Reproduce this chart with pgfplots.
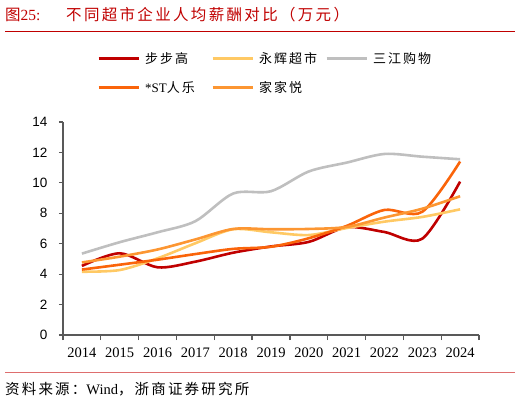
\documentclass[border=0pt]{standalone}
\usepackage{fontspec}
\setmainfont{Liberation Serif}
\newfontfamily\cjk[LetterSpace=15]{Noto Sans CJK SC}
\newfontfamily\arialf{Liberation Sans}
\usepackage{pgfplots}
\pgfplotsset{compat=1.18}

\definecolor{titlered}{RGB}{192,0,0}
\definecolor{footred}{RGB}{222,110,110}
\definecolor{axisgray}{RGB}{89,89,89}
\definecolor{bbgred}{RGB}{192,0,0}
\definecolor{yhyellow}{RGB}{255,201,100}
\definecolor{sjgray}{RGB}{191,191,191}
\definecolor{rlorange}{RGB}{250,100,10}
\definecolor{jjyorange}{RGB}{252,150,50}

\begin{document}
\begin{tikzpicture}
\useasboundingbox (0,0) rectangle (520pt,402pt);

% title and source
\node[anchor=base west, inner sep=0pt, text=titlered, font=\fontsize{15.5}{16}\selectfont] at (5pt,381pt) {{\cjk 图}25:};
\node[anchor=base west, inner sep=0pt, text=titlered, font=\fontsize{15.5}{16}\selectfont] at (66pt,381pt) {\cjk 不同超市企业人均薪酬对比（万元）};
\draw[titlered, line width=0.8pt] (5pt,371pt) -- (515pt,371pt);
\draw[footred, line width=0.8pt] (5pt,30pt) -- (515pt,30pt);
\node[anchor=base west, inner sep=0pt, font=\fontsize{14.5}{15}\selectfont] at (5pt,7pt) {{\cjk 资料来源：}Wind{\cjk ，浙商证券研究所}};

\begin{axis}[
    at={(63pt,67pt)}, anchor=south west,
    scale only axis,
    width=416pt, height=213pt,
    xmin=-0.5, xmax=10.5,
    ymin=0, ymax=14,
    axis x line*=bottom, axis y line*=left,
    axis line style={-, draw=axisgray, line width=1.4pt},
    tick align=outside,
    tick style={axisgray, line width=1.2pt},
    major tick length=4pt,
    minor tick length=5pt,
    ytick={0,2,...,14},
    xtick={0,...,10},
    xticklabels={2014,2015,2016,2017,2018,2019,2020,2021,2022,2023,2024},
    major x tick style={draw=none},
    minor xtick={-0.5,0.5,...,10.5},
    xticklabel style={font=\fontsize{14.5}{15}\selectfont, yshift=-5pt},
    yticklabel style={font=\arialf\fontsize{13.5}{15}\selectfont, xshift=-8pt},
    /pgf/number format/assume math mode=true,
    legend columns=3,
    legend cell align=left,
    legend style={at={(axis description cs:0.0817,1.338)}, anchor=north west,
        draw=none, fill=none, inner sep=0pt, row sep=13pt,
        font=\fontsize{13}{15}\selectfont,
        nodes={inner xsep=0pt, text width=58pt, align=left},
        /tikz/every odd column/.append style={column sep=5pt},
        /tikz/every even column/.append style={column sep=8pt}},
    legend image code/.code={\draw[#1, line width=3pt] (0pt,0pt) -- (40pt,0pt);},
    every axis plot/.append style={line width=2.6pt, smooth, no markers},
]
\addplot[bbgred] coordinates {
    (0,4.54) (1,5.37) (2,4.45) (3,4.82) (4,5.41) (5,5.82) (6,6.12) (7,7.08) (8,6.77) (9,6.33) (10,10.08)
};
\addlegendentry{{\cjk 步步高}}
\addplot[yhyellow] coordinates {
    (0,4.16) (1,4.27) (2,5.04) (3,6.03) (4,6.95) (5,6.75) (6,6.57) (7,7.03) (8,7.45) (9,7.76) (10,8.26)
};
\addlegendentry{{\cjk 永辉超市}}
\addplot[sjgray] coordinates {
    (0,5.35) (1,6.10) (2,6.75) (3,7.48) (4,9.30) (5,9.45) (6,10.75) (7,11.33) (8,11.90) (9,11.72) (10,11.55)
};
\addlegendentry{{\cjk 三江购物}}
\addplot[rlorange] coordinates {
    (0,4.30) (1,4.62) (2,4.95) (3,5.32) (4,5.66) (5,5.80) (6,6.36) (7,7.17) (8,8.22) (9,8.10) (10,11.40)
};
\addlegendentry{*ST{\cjk 人乐}}
\addplot[jjyorange] coordinates {
    (0,4.77) (1,5.15) (2,5.62) (3,6.28) (4,6.97) (5,6.95) (6,6.97) (7,7.10) (8,7.72) (9,8.30) (10,9.12)
};
\addlegendentry{{\cjk 家家悦}}
\end{axis}
\end{tikzpicture}
\end{document}
